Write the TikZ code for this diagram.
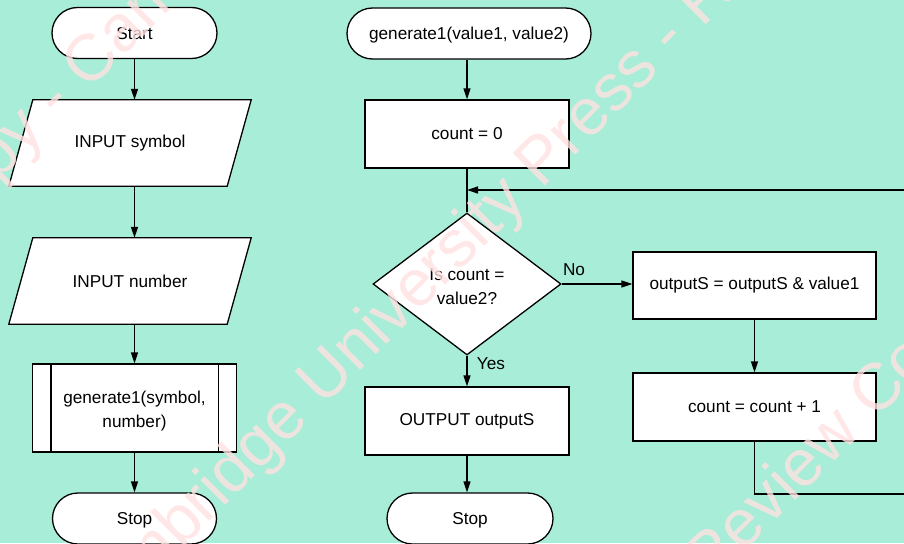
\documentclass[tikz,border=0pt]{standalone}
\usepackage{fontspec}
\setmainfont{Liberation Sans}
\usetikzlibrary{arrows.meta,shapes.geometric,calc,backgrounds}
\definecolor{mint}{RGB}{168,237,216}
\definecolor{wmark}{RGB}{255,226,226}
\begin{document}
\begin{tikzpicture}[x=1pt,y=-1pt,
  every node/.style={font=\fontsize{17.2}{24}\selectfont},
  box/.style={draw=black, fill=white, line width=1.3pt, rectangle, inner sep=0pt, align=center},
  term/.style={box, rounded corners=25.5pt, minimum height=51pt, text depth=0pt},
  ioshape/.style={rectangle, inner sep=0pt, align=center, minimum width=242pt, minimum height=86pt},
  dec/.style={box, diamond, aspect=1.32, minimum width=188pt, minimum height=142pt},
  flow/.style={line width=1.3pt, -{Triangle[length=11pt,width=7pt]}},
  plain/.style={line width=1.3pt},
  lbl/.style={inner sep=0pt, align=center},
  wm/.style={text=wmark, text opacity=0.8, rotate=45, anchor=base west, inner sep=0pt, font=\fontsize{66}{66}\selectfont}
]
\useasboundingbox (0,0) rectangle (904,543);
\clip (0,0) rectangle (904,543);
\begin{pgfonlayer}{background}
\fill[mint] (0,0) rectangle (904,543);
\end{pgfonlayer}

% left column
\node[term, minimum width=165pt] (start) at (134.5,33) {Start};
\node[ioshape] (in1) at (130,143) {INPUT symbol};
\node[ioshape] (in2) at (130,281) {INPUT number};
\node[box, minimum width=204pt, minimum height=88pt] (gen) at (134.5,408) {};
\node[lbl] (gentext) at (134.5,411) {generate1(symbol,\\number)};
\node[term, minimum width=164pt] (stop1) at (134.5,518.5) {Stop};

\begin{pgfonlayer}{background}
\foreach \n in {in1,in2}
  \draw[plain, fill=white] ($(\n.north west)+(24,0)$) -- (\n.north east) -- ($(\n.south east)+(-24,0)$) -- (\n.south west) -- cycle;
\end{pgfonlayer}
\draw[plain] ($(gen.north west)+(19,0)$) -- ($(gen.south west)+(19,0)$);
\draw[plain] ($(gen.north east)+(-19,0)$) -- ($(gen.south east)+(-19,0)$);

\draw[flow] (start.south) -- (start.south |- in1.north);
\draw[flow] (start.south |- in1.south) -- (start.south |- in2.north);
\draw[flow] (start.south |- in2.south) -- (gen.north);
\draw[flow] (gen.south) -- (stop1.north);

% middle column
\node[term, minimum width=244pt] (gen2) at (469,33.5) {generate1(value1, value2)};
\node[box, minimum width=204pt, minimum height=68pt] (count0) at (467,134) {count = 0};
\node[dec] (dia) at (467,284) {};
\node[lbl] (diatext) at (467,287) {Is count =\\value2?};
\node[box, minimum width=204pt, minimum height=68pt] (out) at (467,421) {OUTPUT outputS};
\node[term, minimum width=166pt] (stop2) at (470,518.5) {Stop};

% right column
\node[box, minimum width=243pt, minimum height=67pt] (outS) at (754.5,285.5) {outputS = outputS \& value1};
\node[box, minimum width=243pt, minimum height=68pt] (inc) at (754.5,407) {count = count + 1};

\draw[flow] (count0.north |- gen2.south) -- (count0.north);
\draw[plain] (count0.south) -- (dia.north);
\draw[flow] (dia.south) -- (out.north);
\draw[flow] (out.south) -- (out.south |- stop2.north);
\draw[flow] (dia.east) -- (dia.east -| outS.west);
\draw[flow] (outS.south) -- (inc.north);

\coordinate (lr) at (925,494);
\coordinate (ur) at (925,190);
\coordinate (lj) at (467,190);
\draw[flow] (inc.south) |- (lr) -- (ur) -- (lj);

\node[lbl] (no) at (574,270) {No};
\node[lbl] (yes) at (491,364) {Yes};

% watermark
\node[wm] (wmA) at (-62,242) {Copy - Cambridge University Press - Review Copy};
\node[wm] (wmB) at (-68,799) {Copy - Cambridge University Press - Review Copy};
\node[wm] (wmC) at (-61,1357) {Copy - Cambridge University Press - Review Copy};
\end{tikzpicture}
\end{document}
